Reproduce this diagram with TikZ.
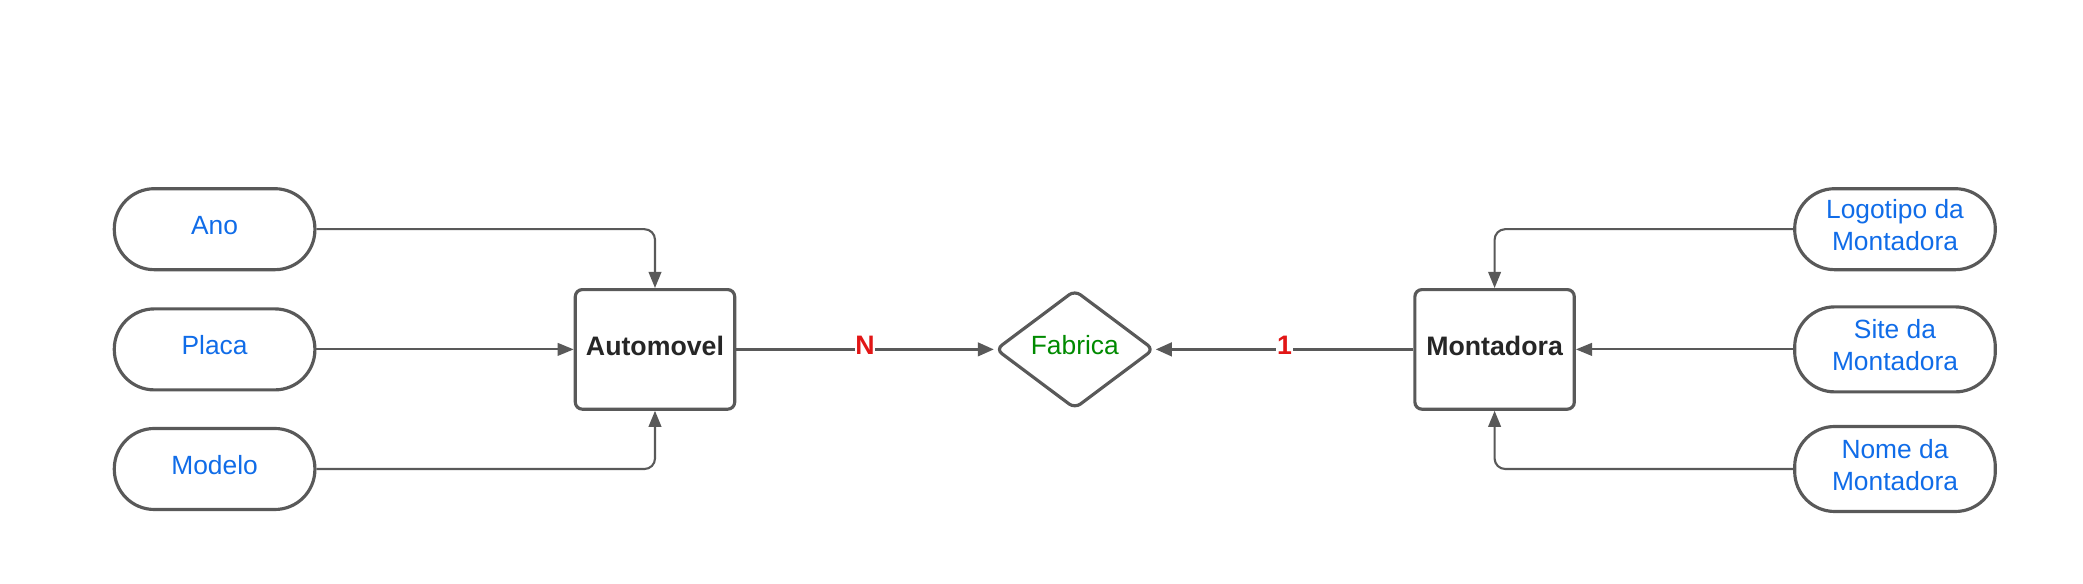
\documentclass[tikz,border=0pt]{standalone}
\usepackage{fontspec}
\setmainfont{Liberation Sans}
\usetikzlibrary{shapes.geometric, arrows.meta}

\definecolor{linegray}{RGB}{89,89,89}
\definecolor{attrblue}{RGB}{16,108,232}
\definecolor{relgreen}{RGB}{0,138,0}
\definecolor{cardred}{RGB}{226,22,22}

\tikzset{
  lifted/.style={execute at end node={\rule[-2.3pt]{0pt}{0pt}}},
  entity/.style={draw=linegray, line width=0.9pt, rounded corners=2pt,
    minimum width=1.594cm, minimum height=1.196cm, inner sep=0pt, lifted,
    text=black!85, font=\fontsize{7.6}{9}\selectfont\bfseries},
  attrib/.style={draw=linegray, line width=0.9pt, rounded corners=0.4cm,
    minimum width=2.006cm, minimum height=0.81cm, inner sep=0pt, align=center,
    lifted, text=attrblue, font=\fontsize{7.5}{9.1}\selectfont},
  relation/.style={diamond, draw=linegray, line width=0.9pt, rounded corners=2pt,
    minimum width=1.585cm, minimum height=1.19cm, inner sep=0pt, aspect=1.33,
    lifted, text=relgreen, font=\fontsize{7.5}{9}\selectfont},
  attrline/.style={draw=linegray, line width=0.6pt, rounded corners=3pt,
    -{Triangle[length=4.6pt, width=3.6pt]}},
  relline/.style={draw=linegray, line width=0.9pt,
    -{Triangle[length=4.6pt, width=3.8pt]}},
  card/.style={fill=white, text=cardred, inner xsep=0.2pt, inner ysep=1pt, lifted,
    font=\fontsize{7.6}{9}\selectfont\bfseries}
}

\begin{document}
\begin{tikzpicture}

\useasboundingbox (0,0) rectangle (20.83,-5.84);

% attributes of automovel
\node[attrib] (ano) at (2.146,-2.292) {Ano};
\node[attrib] (placa) at (2.146,-3.494) {Placa};
\node[attrib] (modelo) at (2.146,-4.69) {Modelo};

% entities and relation
\node[entity] (auto) at (6.55,-3.494) {Automovel};
\node[relation] (fab) at (10.748,-3.494) {Fabrica};
\node[entity] (mont) at (14.946,-3.494) {Montadora};

% attributes of montadora
\node[attrib] (logo) at (18.95,-2.292) {Logotipo da\\Montadora};
\node[attrib, minimum height=0.85cm] (site) at (18.95,-3.494) {Site da\\Montadora};
\node[attrib, minimum height=0.85cm] (nome) at (18.95,-4.69) {Nome da\\Montadora};

% left side
  \draw[attrline] (ano.east) -| (auto.north);
  \draw[attrline] (placa.east) -- (auto.west);
  \draw[attrline] (modelo.east) -| (auto.south);

% relation lines
  \draw[relline] (auto.east) -- node[card] (cardn) {N} (fab.west);
  \draw[relline] (mont.west) -- node[card] (cardone) {1} (fab.east);

% right side
  \draw[attrline] (logo.west) -| (mont.north);
  \draw[attrline] (site.west) -- (mont.east);
  \draw[attrline] (nome.west) -| (mont.south);

\end{tikzpicture}
\end{document}
